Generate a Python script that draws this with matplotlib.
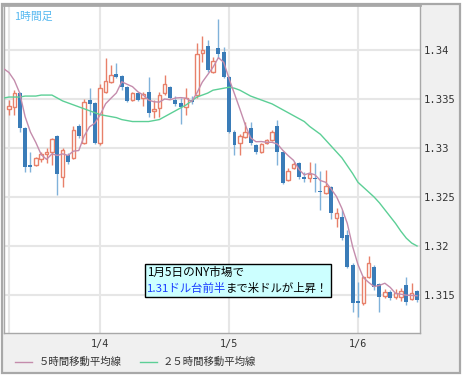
import numpy as np
import pandas as pd
import matplotlib
matplotlib.use("Agg")
import matplotlib.pyplot as plt
from matplotlib.patches import Rectangle
from matplotlib.lines import Line2D

# 1-hour candles, starting 2011-01-03 07:00
start = "2011-01-03 07:00"
opens = [1.3340, 1.3342, 1.3356, 1.3320, 1.3283, 1.3283, 1.3289, 1.3294, 1.3296, 1.3312,
         1.3270, 1.3293, 1.3290, 1.3322, 1.3305, 1.3349, 1.3346, 1.3305, 1.3357, 1.3367,
         1.3376, 1.3373, 1.3362, 1.3349, 1.3356, 1.3351, 1.3357, 1.3338, 1.3341, 1.3356,
         1.3362, 1.3349, 1.3346, 1.3342, 1.3349, 1.3354, 1.3397, 1.3404, 1.3378, 1.3402,
         1.3398, 1.3372, 1.3316, 1.3305, 1.3311, 1.3320, 1.3303, 1.3296, 1.3305, 1.3308,
         1.3322, 1.3296, 1.3267, 1.3280, 1.3285, 1.3270, 1.3269, 1.3269, 1.3256, 1.3254,
         1.3260, 1.3229, 1.3230, 1.3211, 1.3181, 1.3144, 1.3142, 1.3168, 1.3179, 1.3161,
         1.3149, 1.3153, 1.3148, 1.3148, 1.3160, 1.3146, 1.3154]
highs = [1.3349, 1.3359, 1.3357, 1.3321, 1.3296, 1.3291, 1.3296, 1.3300, 1.3310, 1.3313,
         1.3300, 1.3295, 1.3322, 1.3324, 1.3350, 1.3361, 1.3347, 1.3365, 1.3392, 1.3385,
         1.3387, 1.3375, 1.3363, 1.3357, 1.3357, 1.3357, 1.3372, 1.3349, 1.3357, 1.3375,
         1.3363, 1.3353, 1.3351, 1.3361, 1.3353, 1.3407, 1.3414, 1.3410, 1.3393, 1.3432,
         1.3403, 1.3373, 1.3318, 1.3314, 1.3327, 1.3327, 1.3304, 1.3305, 1.3309, 1.3318,
         1.3329, 1.3297, 1.3280, 1.3286, 1.3286, 1.3275, 1.3286, 1.3285, 1.3277, 1.3278,
         1.3261, 1.3239, 1.3237, 1.3216, 1.3183, 1.3163, 1.3169, 1.3190, 1.3181, 1.3162,
         1.3156, 1.3155, 1.3156, 1.3157, 1.3168, 1.3162, 1.3155]
lows = [1.3334, 1.3334, 1.3316, 1.3276, 1.3276, 1.3282, 1.3286, 1.3285, 1.3283, 1.3252,
        1.3260, 1.3284, 1.3289, 1.3310, 1.3304, 1.3334, 1.3304, 1.3303, 1.3356, 1.3366,
        1.3371, 1.3359, 1.3347, 1.3348, 1.3348, 1.3343, 1.3332, 1.3331, 1.3332, 1.3354,
        1.3350, 1.3343, 1.3324, 1.3334, 1.3345, 1.3351, 1.3388, 1.3378, 1.3377, 1.3392,
        1.3371, 1.3315, 1.3293, 1.3293, 1.3310, 1.3303, 1.3294, 1.3295, 1.3304, 1.3307,
        1.3283, 1.3263, 1.3266, 1.3279, 1.3268, 1.3265, 1.3265, 1.3255, 1.3237, 1.3253,
        1.3228, 1.3219, 1.3206, 1.3178, 1.3133, 1.3128, 1.3140, 1.3167, 1.3155, 1.3133,
        1.3147, 1.3145, 1.3146, 1.3144, 1.3140, 1.3145, 1.3143]
closes = [1.3343, 1.3356, 1.3320, 1.3281, 1.3281, 1.3290, 1.3294, 1.3296, 1.3309, 1.3273,
          1.3298, 1.3286, 1.3318, 1.3312, 1.3347, 1.3345, 1.3305, 1.3361, 1.3368, 1.3375,
          1.3372, 1.3362, 1.3348, 1.3356, 1.3349, 1.3355, 1.3336, 1.3340, 1.3354, 1.3365,
          1.3351, 1.3345, 1.3342, 1.3351, 1.3347, 1.3396, 1.3400, 1.3380, 1.3389, 1.3396,
          1.3372, 1.3316, 1.3303, 1.3312, 1.3316, 1.3305, 1.3296, 1.3304, 1.3308, 1.3316,
          1.3296, 1.3264, 1.3277, 1.3284, 1.3270, 1.3268, 1.3273, 1.3268, 1.3255, 1.3261,
          1.3234, 1.3234, 1.3208, 1.3179, 1.3142, 1.3142, 1.3168, 1.3183, 1.3158, 1.3148,
          1.3153, 1.3147, 1.3152, 1.3154, 1.3143, 1.3152, 1.3145]

# 5-hour MA before enough closes exist in the window, one hour before start onward
ma5_lead = [1.3381, 1.3377, 1.3369, 1.3356, 1.3332]
# 25-hour MA, one hour before start onward
ma25 = [1.3351, 1.3352, 1.3352, 1.3352, 1.3353, 1.3353, 1.3353, 1.3354, 1.3354, 1.3354,
        1.3351, 1.3348, 1.3346, 1.3344, 1.3342, 1.3340, 1.3338, 1.3336, 1.3334, 1.3333,
        1.3332, 1.3331, 1.3329, 1.3328, 1.3327, 1.3327, 1.3327, 1.3327, 1.3328, 1.3329,
        1.3332, 1.3335, 1.3338, 1.3341, 1.3344, 1.3348, 1.3352, 1.3354, 1.3356, 1.3359,
        1.3360, 1.3361, 1.3362, 1.3361, 1.3359, 1.3356, 1.3353, 1.3351, 1.3349, 1.3347,
        1.3345, 1.3342, 1.3339, 1.3336, 1.3333, 1.3330, 1.3327, 1.3322, 1.3318, 1.3314,
        1.3308, 1.3302, 1.3296, 1.3290, 1.3282, 1.3274, 1.3265, 1.3260, 1.3255, 1.3250,
        1.3244, 1.3237, 1.3230, 1.3223, 1.3215, 1.3208, 1.3203, 1.3200]

yticks = [1.315, 1.32, 1.325, 1.33, 1.335, 1.34]
ma_labels = ["５時間移動平均線", "２５時間移動平均線"]
title = "1時間足"
note_line1 = "1月5日のNY市場で"
note_hi = "1.31ドル台前半"
note_rest = "まで米ドルが上昇！"

JP = ["Noto Sans CJK JP", "DejaVu Sans"]
UP = "#e8806a"
DOWN = "#3a7cb8"
DOWN_WICK = "#80b2da"
MA5_C = "#c48cac"
MA25_C = "#5ccf96"

W, H = 463, 377
fig = plt.figure(figsize=(W / 100, H / 100), dpi=100, facecolor="white")

# outer gray panel
fig.patches.append(Rectangle((2 / W, 4 / H), 458 / W, 369 / H, transform=fig.transFigure,
                             facecolor="#f0f0f0", edgecolor="#a8a8a8", lw=1.6, zorder=-5))

ax = fig.add_axes([4 / W, 44 / H, 416 / W, 328 / H])
ax.set_facecolor("white")

times = pd.date_range(start, periods=len(closes), freq="h")
x = np.arange(len(closes))
o = np.array(opens); h = np.array(highs); l = np.array(lows); c = np.array(closes)
up = c >= o

ax.vlines(x[up], l[up], h[up], color=UP, lw=1, zorder=2)
ax.vlines(x[~up], l[~up], h[~up], color=DOWN_WICK, lw=1, zorder=2)
body = np.maximum(np.abs(c - o), 0.00004)
ax.bar(x[up], body[up], bottom=np.minimum(o, c)[up], width=0.66,
       facecolor="white", edgecolor=UP, lw=1, zorder=3)
ax.bar(x[~up], body[~up], bottom=np.minimum(o, c)[~up], width=0.74,
       color=DOWN, lw=0, zorder=3)

ma5 = pd.Series(closes).rolling(5).mean().to_numpy()
ma5_line = np.concatenate([ma5_lead, ma5[4:]])
xl = np.arange(-1, len(closes))
ax.plot(xl, ma25, color=MA25_C, lw=1, zorder=4)
ax.plot(xl, ma5_line, color=MA5_C, lw=1, zorder=5)

ax.set_xlim(-0.93, 76.55)
ax.set_ylim(1.311122, 1.344592)

midnights = [i for i, t in enumerate(times) if t.hour == 0]
ax.set_xticks([0] + midnights)
ax.set_xticklabels([""] + [f"{times[i].month}/{times[i].day}" for i in midnights],
                   family="DejaVu Sans Mono", fontsize=7.3, color="#333333")
ax.set_yticks(yticks)
ax.set_yticklabels([f"{v:g}" for v in yticks], family="DejaVu Sans Mono",
                   fontsize=7.6, color="#333333")
ax.yaxis.tick_right()
ax.tick_params(axis="both", length=0)
ax.tick_params(axis="y", pad=2.5)
ax.tick_params(axis="x", pad=4)
ax.grid(True, color="#e6e6e6", lw=1.5, zorder=0)
ax.set_axisbelow(True)
for s in ax.spines.values():
    s.set_color("#a8a8a8")
    s.set_linewidth(1)
ax.spines["top"].set_linewidth(2)

ax.text(0.024, 0.978, title, transform=ax.transAxes, family=JP, fontsize=7.8,
        color="#55b8f0", va="top", ha="left")

# legend
def fy(py):
    return (H - py) / H

fig.add_artist(Line2D([15 / W, 32 / W], [fy(362)] * 2, color=MA5_C, lw=1))
fig.text(39 / W, fy(362), ma_labels[0], family=JP, fontsize=7.5, color="#333333", va="center")
fig.add_artist(Line2D([140 / W, 157 / W], [fy(362)] * 2, color=MA25_C, lw=1))
fig.text(163 / W, fy(362), ma_labels[1], family=JP, fontsize=7.5, color="#333333", va="center")

# annotation box
fig.patches.append(Rectangle((145 / W, fy(297)), 186 / W, 33 / H, transform=fig.transFigure,
                             facecolor="#ccffff", edgecolor="black", lw=1, zorder=10))
fig.text(147 / W, fy(272), note_line1, family=JP, fontsize=8.4, color="black",
         va="center", zorder=11)
t_hi = fig.text(147 / W, fy(288), note_hi, family=JP, fontsize=8.2, color="#1a3cff",
                va="center", zorder=11)
fig.canvas.draw()
bb = t_hi.get_window_extent()
fig.text(bb.x1 / W, fy(288), note_rest, family=JP, fontsize=8.2, color="black",
         va="center", zorder=11)

fig.savefig("out.png", dpi=100, facecolor="white")
